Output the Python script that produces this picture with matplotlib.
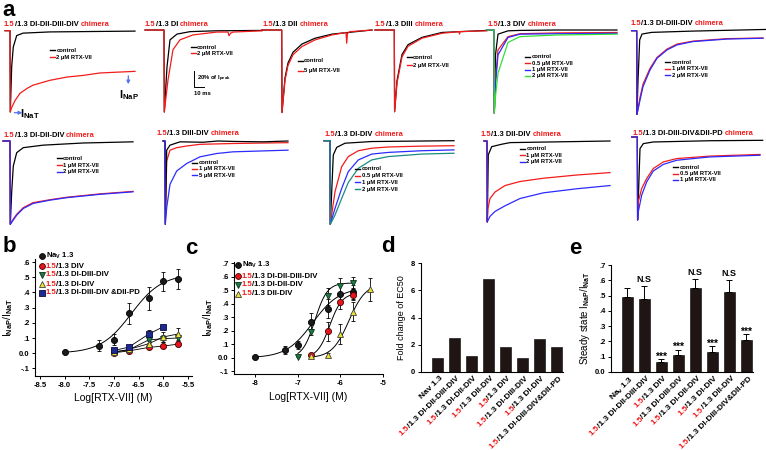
import numpy as np
import matplotlib
matplotlib.use('Agg')
import matplotlib.pyplot as plt
from matplotlib.font_manager import FontProperties

plt.rcParams['font.family'] = ['Liberation Sans', 'DejaVu Sans']
plt.rcParams['font.weight'] = 'bold'
plt.rcParams['mathtext.fontset'] = 'custom'
plt.rcParams['mathtext.rm'] = 'Liberation Sans:bold'
plt.rcParams['mathtext.it'] = 'Liberation Sans:italic:bold'
plt.rcParams['mathtext.bf'] = 'Liberation Sans:bold'
plt.rcParams['mathtext.default'] = 'rm'

RED = '#f21c1c'
BLUE = '#2b2bff'
GREEN = '#35e035'
TEAL = '#1b8c82'
ARROW = '#5574f2'

# ---------------- panel a: current traces (time in ms, current in % of peak)
p1_t_ctrl = [0, 5, 5.3, 6.7, 8.3, 11.7, 18, 45, 130]
p1_ctrl = [0, 0, -100, -44, -20, -6, -3, -1.5, -0.5]
p1_t_rtx = [0, 5, 5.3, 6.5, 10, 15, 22, 28, 45, 62, 78, 95, 112, 130]
p1_rtx2 = [0, 0, -100, -95, -86, -77, -71, -67, -61, -57, -55, -52, -51, -50]

p2_t_ctrl = [0, 19, 19.3, 22, 25, 32, 45, 70, 117]
p2_ctrl = [0, 0, -100, -45, -12, -5, -2, -1, -0.5]
p2_t_rtx = [0, 19, 19.3, 23, 28, 35, 48, 72, 83, 84, 85.5, 88, 117]
p2_rtx2 = [0, 0, -100, -61, -24, -12, -6, -2.5, -2.5, -7, -4, -2.5, -1]

p3_t_ctrl = [0, 19.7, 20, 23, 26, 31, 40, 53, 70, 110]
p3_ctrl = [0, 0, -100, -58, -40, -27, -17, -10, -5, 0]
p3_t_rtx = [0, 19.7, 20, 23, 26, 31, 40, 53, 70, 84, 84.7, 85.5, 88, 110]
p3_rtx5 = [0, 0, -100, -61, -43, -30, -20, -12, -6, -3, -16, -4, -2, 0]

p4_t_ctrl = [0, 19.3, 19.6, 22, 27, 33, 47, 67, 112]
p4_ctrl = [0, 0, -100, -62, -30, -18, -9, -3, -0.5]
p4_t_rtx = [0, 19.3, 19.6, 22, 27, 33, 47, 67, 84, 84.5, 85, 112]
p4_rtx2 = [0, 0, -100, -65, -33, -20, -10, -4, -2, -5, -2, -1]

p5_t = [0, 7, 7.3, 8.5, 11, 21, 33, 70, 130]
p5_ctrl = [0, 0, -100, -30, -5, -1, -0.5, 0, 0]
p5_rtx05 = [0, 0, -100, -60, -24, -8, -4.5, -3.5, -3]
p5_rtx1 = [0, 0, -100, -65, -30, -9, -5, -4.5, -4]
p5_rtx2 = [0, 0, -100, -80, -52, -15, -8, -6, -5]

p6_t_ctrl = [0, 5, 5.3, 6.3, 8, 10.3, 20, 60, 134]
p6_ctrl = [0, 0, -100, -60, -11, -4, -2, -0.5, 1.5]
p6_t = [0, 5, 5.3, 8.3, 11.3, 18.3, 25.3, 35.3, 45.3, 61.3, 95.3, 131.3]
p6_rtx1 = [0, 0, -100, -80, -64, -45, -32, -22, -16, -12.5, -9.5, -8.7]
p6_rtx2 = [0, 0, -100, -83, -67, -47, -33, -23, -17, -13, -10, -9]

p7_t_ctrl = [0, 7, 7.3, 8.7, 10.3, 13.7, 20.3, 40, 80, 130]
p7_ctrl = [0, 0, -100, -61, -30, -14, -8, -5, -2.4, -1]
p7_t = [0, 7, 7.3, 9, 13.7, 20.3, 30, 47, 64, 97, 130]
p7_rtx1 = [0, 0, -100, -96, -88, -80, -74, -70.5, -67.5, -63.5, -60.5]
p7_rtx2 = [0, 0, -100, -97, -89, -81, -75, -71, -68, -64, -61]

p8_t_ctrl = [0, 2, 2.3, 3.7, 7, 17, 40, 55, 70, 100, 125]
p8_ctrl = [0, 0, -100, -11, -5, -1, -1.5, 0, -0.5, -1, 0]
p8_t = [0, 2, 2.3, 3.7, 7, 13.7, 23.7, 37, 53.7, 70, 125]
p8_rtx1 = [0, 0, -100, -24, -11, -8, -6, -4, -3.5, -3, -2]
p8_rtx5 = [0, 0, -100, -80, -52, -36, -27, -19, -15, -13, -11]

p9_t_ctrl = [0, 6, 6.3, 9.3, 12.7, 21, 47.7, 130]
p9_ctrl = [0, 0, -100, -17, -8, -3, -1, 0]
p9_t = [0, 6, 6.3, 11, 17.7, 24.3, 34.3, 47.7, 64.3, 97.7, 130]
p9_rtx05 = [0, 0, -100, -61, -31, -19, -12, -9, -7.5, -6.5, -6]
p9_rtx1 = [0, 0, -100, -81, -57, -37, -23, -16, -14, -12, -11]
p9_rtx2 = [0, 0, -100, -89, -69, -50, -33, -23, -19, -16, -15]

p10_t_ctrl = [0, 3, 3.3, 4.3, 7.7, 17.7, 26, 126]
p10_ctrl = [0, 0, -100, -17, -7, -4, -2, 0]
p10_t = [0, 3, 3.3, 4, 6, 11, 21, 36, 59.3, 92.7, 126]
p10_rtx1 = [0, 0, -100, -83, -71, -63, -55, -50, -46, -42, -39]
p10_rtx2 = [0, 0, -100, -98, -93, -87, -80, -71, -64, -59, -55]

p11_t_ctrl = [0, 5.6, 5.9, 8.3, 11.6, 21.6, 78.3, 131]
p11_ctrl = [0, 0, -100, -14, -8, -6, -4.5, -4]
p11_t = [0, 5.6, 5.9, 6.6, 10, 15, 21.6, 31.6, 45, 78.3, 128.3]
p11_rtx05 = [0, 0, -100, -78, -62, -50, -38, -30, -26, -23, -21]
p11_rtx1 = [0, 0, -100, -90, -70, -54, -41, -33, -28, -24, -22]

# ---------------- panel b: dose response
conc_b = [-8.0, -7.3, -7.0, -6.7, -6.3, -6.0, -5.7]
nav13_b = [0.005, 0.05, 0.09, 0.262, 0.362, 0.472, 0.488]
nav13_b_err = [0.0, 0.035, 0.035, 0.068, 0.075, 0.065, 0.065]
conc_b_chim = [-7.0, -6.7, -6.3, -6.0, -5.7]
div_b = [0.003, 0.015, 0.038, 0.047, 0.06]
div_b_err = [0.004, 0.008, 0.012, 0.012, 0.015]
didiiidiv_b = [0.01, 0.022, 0.087, 0.096, 0.10]
didiiidiv_b_err = [0.006, 0.01, 0.02, 0.025, 0.022]
didiv_b = [0.005, 0.025, 0.062, 0.107, 0.127]
didiv_b_err = [0.004, 0.012, 0.02, 0.03, 0.04]
conc_b_pd = [-7.0, -6.7, -6.3, -6.0]
pd_b = [0.018, 0.04, 0.125, 0.175]
pd_b_err = [0.008, 0.015, 0.03, 0.005]

# Hill fit parameters: top, logEC50, slope
nav13_fit = (0.52, -6.65, 1.4)

# ---------------- panel c
conc_c = [-8.0, -7.3, -7.0, -6.7, -6.3, -6.0, -5.7]
nav13_c = [0.005, 0.055, 0.092, 0.265, 0.365, 0.476, 0.489]
nav13_c_err = [0.0, 0.03, 0.03, 0.065, 0.07, 0.06, 0.05]
conc_c_full = [-6.7, -6.3, -6.0, -5.7]
full_c = [0.02, 0.196, 0.414, 0.469]
full_c_err = [0.005, 0.07, 0.05, 0.04]
conc_c_didiidiv = [-7.0, -6.7, -6.3, -6.0, -5.7]
didiidiv_c = [0.008, 0.19, 0.456, 0.53, 0.558]
didiidiv_c_err = [0.003, 0.02, 0.065, 0.06, 0.04]
conc_c_diidiv = [-6.7, -6.3, -6.0, -5.7, -5.3]
diidiv_c = [0.01, 0.022, 0.174, 0.34, 0.509]
diidiv_c_err = [0.005, 0.01, 0.075, 0.07, 0.085]
full_fit = (0.48, -6.25, 3.0)
didiidiv_fit = (0.555, -6.6, 3.0)
diidiv_fit = (0.55, -5.8, 2.2)

# ---------------- panel d
ec50_fold = [1.0, 2.5, 1.2, 6.8, 1.8, 1.05, 2.42, 1.85]
d_names = ['Nav 1.3', '/1.3 DI-DII-DIII-DIV', '/1.3 DI-DII-DIV', '/1.3 DII-DIV',
           '/1.3 DIV', '/1.3 DI-DIII-DIV', '/1.3 DI-DIV', '/1.3 DI-DIII-DIV&DII-PD']

# ---------------- panel e
steady = [0.488, 0.475, 0.066, 0.109, 0.549, 0.131, 0.521, 0.208]
steady_err = [0.059, 0.087, 0.017, 0.038, 0.057, 0.037, 0.081, 0.041]
steady_sig = ['', 'N.S', '***', '***', 'N.S', '***', 'N.S', '***']
e_names = ['Na$_\\mathrm{v}$ 1.3', '/1.3 DI-DII-DIII-DIV', '/1.3 DIV', '/1.3 DI-DIII-DIV',
           '/1.3 DI-DII-DIV', '/1.3 DI-DIV', '/1.3 DII-DIV', '/1.3 DI-DIII-DIV&DII-PD']

W, H = 766, 450
fig = plt.figure(figsize=(W / 100, H / 100), dpi=100)

# overlay in pixel coordinates for titles, legends and other annotations
ov = fig.add_axes([0, 0, 1, 1], zorder=10)
ov.set_xlim(0, W)
ov.set_ylim(H, 0)
ov.axis('off')


def fx(x):
    return x / W


def fy(y):
    return 1 - y / H


def rich(x, y, parts, size):
    """write several coloured pieces of text one after another"""
    t = None
    for s, c in parts:
        gap = 0
        if s.startswith(' '):
            s = s.lstrip(' ')
            gap = 0.28 * size
        if t is None:
            t = ov.text(x, y, s, color=c, fontsize=size, va='center',
                        ha='left', fontweight='bold')
        else:
            t = ov.annotate(s, xy=(1, 0.5), xycoords=t, xytext=(gap, 0),
                            textcoords='offset points', va='center', ha='left',
                            color=c, fontsize=size, fontweight='bold')
    return t


def trace_panel(x0, width, base, peak, traces, title, title_xy, legend_xy, labels):
    ax = fig.add_axes([fx(x0), fy(peak), width / W, (peak - base) / H])
    ax.set_xlim(0, width)
    ax.set_ylim(-100, 0)
    ax.axis('off')
    for t, v, c in traces:
        ax.plot(t, v, color=c, lw=0.9, clip_on=False, solid_joinstyle='round')
    rich(title_xy[0], title_xy[1],
         [('1.5', RED), ('/1.3 ' + title, 'black'), (' chimera', RED)], 5.4)
    lx, ly, step = legend_xy
    for k, (lab, col) in enumerate(labels):
        yy = ly + k * step
        ov.plot([lx, lx + 5], [yy, yy], color=col, lw=1.0)
        ov.text(lx + 6.5, yy, lab, fontsize=4.2, va='center', ha='left',
                fontweight='bold')
    return ax


ctrl = ('control', 'black')
trace_panel(5, 130, 30.7, 112,
            [(p1_t_ctrl, p1_ctrl, 'black'), (p1_t_rtx, p1_rtx2, RED)],
            'DI-DII-DIII-DIV', (4, 24), (50, 50, 7.3), [ctrl, ('2 μM RTX-VII', RED)])
trace_panel(145, 117, 30, 112,
            [(p2_t_ctrl, p2_ctrl, 'black'), (p2_t_rtx, p2_rtx2, RED)],
            'DI', (145, 24), (190.7, 47.3, 6), [ctrl, ('2 μM RTX-VII', RED)])
trace_panel(262, 110, 30, 112.5,
            [(p3_t_ctrl, p3_ctrl, 'black'), (p3_t_rtx, p3_rtx5, RED)],
            'DII', (262.3, 24), (297.7, 60.7, 10), [ctrl, ('5 μM RTX-VII', RED)])
trace_panel(375, 112, 30, 111.7,
            [(p4_t_ctrl, p4_ctrl, 'black'), (p4_t_rtx, p4_rtx2, RED)],
            'DIII', (375, 24), (406.7, 57.3, 7.7), [ctrl, ('2 μM RTX-VII', RED)])
trace_panel(487, 130, 30, 113,
            [(p5_t, p5_ctrl, 'black'), (p5_t, p5_rtx05, RED), (p5_t, p5_rtx1, BLUE),
             (p5_t, p5_rtx2, GREEN)],
            'DIV', (487.3, 24), (525, 56.7, 6.4),
            [ctrl, ('0.5 μM RTX-VII', RED), ('1 μM RTX-VII', BLUE), ('2 μM RTX-VII', GREEN)])
trace_panel(631.7, 134, 30.7, 114.3,
            [(p6_t_ctrl, p6_ctrl, 'black'), (p6_t, p6_rtx1, RED), (p6_t, p6_rtx2, BLUE)],
            'DI-DIII-DIV', (630.7, 23.3), (665, 62.3, 6.4),
            [ctrl, ('1 μM RTX-VII', RED), ('2 μM RTX-VII', BLUE)])
trace_panel(3, 130, 141, 224.3,
            [(p7_t_ctrl, p7_ctrl, 'black'), (p7_t, p7_rtx1, RED), (p7_t, p7_rtx2, BLUE)],
            'DI-DII-DIV', (4, 135.7), (56.7, 158.3, 6.7),
            [ctrl, ('1 μM RTX-VII', RED), ('2 μM RTX-VII', BLUE)])
trace_panel(163, 125, 141, 224.3,
            [(p8_t, p8_rtx1, RED), (p8_t_ctrl, p8_ctrl, 'black'), (p8_t, p8_rtx5, BLUE)],
            'DIII-DIV', (156.7, 133.3), (192.3, 162.7, 6.2),
            [ctrl, ('1 μM RTX-VII', RED), ('5 μM RTX-VII', BLUE)])
trace_panel(324, 130, 140.7, 224.3,
            [(p9_t_ctrl, p9_ctrl, 'black'), (p9_t, p9_rtx05, RED), (p9_t, p9_rtx1, BLUE),
             (p9_t, p9_rtx2, TEAL)],
            'DI-DIV', (324.3, 134.3), (355, 169, 6.7),
            [ctrl, ('0.5 μM RTX-VII', RED), ('1 μM RTX-VII', BLUE), ('2 μM RTX-VII', TEAL)])
trace_panel(484, 128, 141, 222,
            [(p10_t_ctrl, p10_ctrl, 'black'), (p10_t, p10_rtx1, RED), (p10_t, p10_rtx2, BLUE)],
            'DII-DIV', (480.7, 134.3), (520, 149, 6.3),
            [ctrl, ('1 μM RTX-VII', RED), ('2 μM RTX-VII', BLUE)])
trace_panel(631.7, 131, 137, 220,
            [(p11_t_ctrl, p11_ctrl, 'black'), (p11_t, p11_rtx05, RED), (p11_t, p11_rtx1, BLUE)],
            'DI-DIII-DIV&DII-PD', (632.3, 133.3), (673.3, 167.3, 6.3),
            [ctrl, ('0.5 μM RTX-VII', RED), ('1 μM RTX-VII', BLUE)])

# arrows and scale bar in the first row
ov.annotate('', xy=(25, 112.7), xytext=(11.5, 112.7),
            arrowprops=dict(arrowstyle='-|>', color=ARROW, lw=0.9, mutation_scale=5))
ov.text(20, 114, 'I$_\\mathrm{NaT}$', fontsize=8, va='center', ha='left')
ov.annotate('', xy=(128.3, 87), xytext=(128.3, 73),
            arrowprops=dict(arrowstyle='-|>', color=ARROW, lw=0.9, mutation_scale=5))
ov.text(129, 95, 'I$_\\mathrm{NaP}$', fontsize=8, va='center', ha='center')

ov.plot([194.3, 194.3, 204.3], [70.7, 87.3, 87.3], color='black', lw=0.7)
ov.text(197.3, 79, '20% of I$_\\mathrm{peak}$', fontsize=4.2, va='center', ha='left')
ov.text(194.3, 93.3, '10 ms', fontsize=4.2, va='center', ha='left')

# panel letters
ov.text(9, 10, 'a', fontsize=16, ha='center', va='center')
ov.text(9, 246, 'b', fontsize=16, ha='center', va='center')
ov.text(191, 248, 'c', fontsize=16, ha='center', va='center')
ov.text(388, 246, 'd', fontsize=16, ha='center', va='center')
ov.text(575, 248, 'e', fontsize=16, ha='center', va='center')


def style_axes(ax):
    for side in ['top', 'right']:
        ax.spines[side].set_visible(False)
    for side in ['left', 'bottom']:
        ax.spines[side].set_linewidth(0.8)
    ax.tick_params(direction='out', length=2.5, width=0.7, labelsize=5.5, pad=1.5)


def hill(params, lo, hi):
    top, logec, n = params
    xs = np.linspace(lo, hi, 120)
    return xs, top / (1 + 10 ** ((logec - xs) * n))


def dose_series(ax, x, y, err, marker, face, edge, line=True):
    ax.errorbar(x, y, yerr=err, fmt='none', ecolor='black', elinewidth=0.6,
                capsize=1.5, capthick=0.6, zorder=2)
    if line:
        ax.plot(x, y, color='black', lw=0.6, zorder=1)
    ax.plot(x, y, ls='none', marker=marker, ms=4.4, mfc=face, mec=edge, mew=0.6, zorder=3)


def marker_legend(entries, x_marker, x_text, ys):
    for (marker, face, edge, parts), y in zip(entries, ys):
        ov.plot([x_marker], [y], marker=marker, ms=4.2, mfc=face, mec=edge, mew=0.6,
                ls='none')
        rich(x_text, y, parts, 5.6)


NAV_LEG = 'Na$_\\mathrm{V}$ 1.3'
YEL = '#ece232'
NAVY = '#1e2b8e'
DKGREEN = '#1d7a45'
DOTRED = '#e8141c'

# ---------- b
ax_b = fig.add_axes([fx(35), fy(376), 157 / W, 117 / H])
style_axes(ax_b)
xs, ys = hill(nav13_fit, conc_b[0], conc_b[-1])
ax_b.plot(xs, ys, color='black', lw=0.7)
dose_series(ax_b, conc_b, nav13_b, nav13_b_err, 'o', '#1a1a1a', 'black', line=False)
dose_series(ax_b, conc_b_chim, div_b, div_b_err, 'o', DOTRED, '#400000')
dose_series(ax_b, conc_b_chim, didiiidiv_b, didiiidiv_b_err, 'v', DKGREEN, '#0a3018')
dose_series(ax_b, conc_b_chim, didiv_b, didiv_b_err, '^', YEL, '#404040')
dose_series(ax_b, conc_b_pd, pd_b, pd_b_err, 's', NAVY, '#0a0a40')
ax_b.set_xlim(-8.6, -5.42)
ax_b.set_ylim(-0.15, 0.62)
ax_b.set_xticks(np.arange(-8.5, -5.4, 0.5))
ax_b.set_xticklabels(['-8.5', '-8.0', '-7.5', '-7.0', '-6.5', '-6.0', '-5.5'])
ax_b.set_yticks(np.arange(-0.1, 0.61, 0.1))
ax_b.set_yticklabels(['-.1', '0.0', '.1', '.2', '.3', '.4', '.5', '.6'])
ax_b.set_xlabel('Log[RTX-VII] (M)', fontsize=7.5, labelpad=3)
ax_b.set_ylabel('I$_\\mathrm{NaP}$/I$_\\mathrm{NaT}$', fontsize=7.5, labelpad=3)
marker_legend([('o', '#1a1a1a', 'black', [(NAV_LEG, 'black')]),
               ('o', DOTRED, '#400000', [('1.5', RED), ('/1.3 DIV', 'black')]),
               ('v', DKGREEN, '#0a3018', [('1.5', RED), ('/1.3 DI-DIII-DIV', 'black')]),
               ('^', YEL, '#404040', [('1.5', RED), ('/1.3 DI-DIV', 'black')]),
               ('s', NAVY, '#0a0a40', [('1.5', RED), ('/1.3 DI-DIII-DIV &DII-PD', 'black')])],
              41.7, 45.5, [256, 266, 275, 284, 292.7])

# ---------- c
ax_c = fig.add_axes([fx(234), fy(374), 149 / W, 112 / H])
style_axes(ax_c)
for params, xc in [(nav13_fit, conc_c), (full_fit, conc_c_full),
                   (didiidiv_fit, conc_c_didiidiv), (diidiv_fit, conc_c_diidiv)]:
    xs, ys = hill(params, xc[0], xc[-1])
    ax_c.plot(xs, ys, color='black', lw=0.7)
dose_series(ax_c, conc_c, nav13_c, nav13_c_err, 'o', '#1a1a1a', 'black', line=False)
dose_series(ax_c, conc_c_full, full_c, full_c_err, 'o', DOTRED, '#400000', line=False)
dose_series(ax_c, conc_c_didiidiv, didiidiv_c, didiidiv_c_err, 'v', DKGREEN, '#0a3018', line=False)
dose_series(ax_c, conc_c_diidiv, diidiv_c, diidiv_c_err, '^', YEL, '#404040', line=False)
ax_c.set_xlim(-8.5, -5.0)
ax_c.set_ylim(-0.12, 0.71)
ax_c.set_xticks([-8, -7, -6, -5])
ax_c.set_xticklabels(['-8', '-7', '-6', '-5'])
ax_c.set_yticks(np.arange(-0.1, 0.71, 0.1))
ax_c.set_yticklabels(['-.1', '0.0', '.1', '.2', '.3', '.4', '.5', '.6', '.7'])
ax_c.set_xlabel('Log[RTX-VII] (M)', fontsize=7.5, labelpad=4)
ax_c.set_ylabel('I$_\\mathrm{NaP}$/I$_\\mathrm{NaT}$', fontsize=7.5, labelpad=2)
marker_legend([('o', '#1a1a1a', 'black', [(NAV_LEG, 'black')]),
               ('o', DOTRED, '#400000', [('1.5', RED), ('/1.3 DI-DII-DIII-DIV', 'black')]),
               ('v', DKGREEN, '#0a3018', [('1.5', RED), ('/1.3 DI-DII-DIV', 'black')]),
               ('^', YEL, '#404040', [('1.5', RED), ('/1.3 DII-DIV', 'black')])],
              238.3, 241.5, [265, 276, 284.7, 293.7])


def rot_labels(ax, names, fs=6.0):
    renderer = fig.canvas.get_renderer()
    prop = FontProperties(family='Liberation Sans', weight='bold', size=fs)
    c = np.cos(np.radians(45))
    for i, name in enumerate(names):
        if name.startswith('/'):
            parts = [('1.5', RED), (name, 'black')]
        else:
            parts = [(name, 'black')]
        off = 0.0
        for s, col in reversed(parts):
            ax.annotate(s, xy=(i, 0), xycoords=('data', 'axes fraction'),
                        xytext=(2 - off * c, -3 - off * c), textcoords='offset pixels',
                        rotation=45, rotation_mode='anchor', ha='right', va='top',
                        fontsize=fs, color=col, fontweight='bold', annotation_clip=False)
            w, h, d = renderer.get_text_width_height_descent(s, prop, ismath=('$' in s))
            off += w


BAR = '#1f1515'

# ---------- d
ax_d = fig.add_axes([fx(421), fy(372), 142 / W, 109 / H])
style_axes(ax_d)
xd = np.arange(len(ec50_fold))
ax_d.bar(xd, ec50_fold, width=0.65, color=BAR, edgecolor='black', lw=0.4)
ax_d.set_xlim(-0.95, 7.4)
ax_d.set_ylim(0, 8)
ax_d.set_yticks([0, 2, 4, 6, 8])
ax_d.set_xticks([])
ax_d.set_ylabel('Fold change of EC50', fontsize=6.5, fontweight='normal', labelpad=4)
rot_labels(ax_d, d_names)

# ---------- e
ax_e = fig.add_axes([fx(611), fy(372), 142 / W, 107 / H])
style_axes(ax_e)
xe = np.arange(len(steady))
ax_e.bar(xe, steady, width=0.65, color=BAR, edgecolor='black', lw=0.4)
ax_e.errorbar(xe, steady, yerr=[np.zeros(len(steady)), steady_err], fmt='none',
              ecolor='black', elinewidth=0.7, capsize=2, capthick=0.7)
for i, s in enumerate(steady_sig):
    if s == 'N.S':
        ax_e.annotate(s, xy=(i, steady[i] + steady_err[i]), xytext=(0, 3.2),
                      textcoords='offset points', ha='center', va='baseline', fontsize=6.5)
    elif s:
        ax_e.annotate(s, xy=(i, steady[i] + steady_err[i]), xytext=(0, -0.5),
                      textcoords='offset points', ha='center', va='baseline', fontsize=7.5)
ax_e.set_xlim(-0.95, 7.4)
ax_e.set_ylim(0, 0.7)
ax_e.set_yticks(np.arange(0, 0.71, 0.1))
ax_e.set_yticklabels(['0.0', '.1', '.2', '.3', '.4', '.5', '.6', '.7'])
ax_e.set_xticks([])
ax_e.set_ylabel('Steady state I$_\\mathrm{NaP}$/I$_\\mathrm{NaT}$', fontsize=7, labelpad=2)
rot_labels(ax_e, e_names)

fig.savefig('out.png', dpi=100)
